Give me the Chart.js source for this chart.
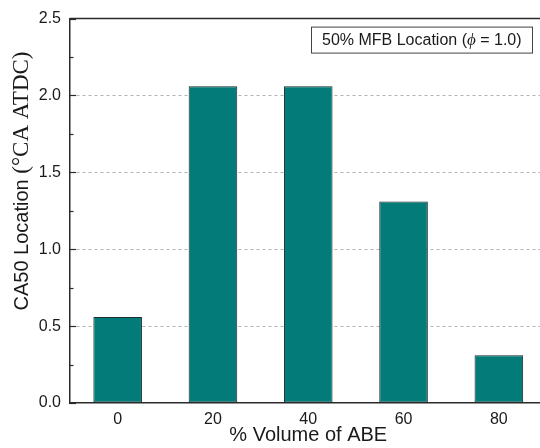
<!DOCTYPE html>
<html>
<head>
<meta charset="utf-8">
<script src="https://cdn.jsdelivr.net/npm/chart.js@4"></script>
<style>
  html, body { margin: 0; padding: 0; background: #fff; overflow: hidden; }
  #wrap { width: 560px; height: 448px; }
</style>
</head>
<body>
<div id="wrap"><canvas id="c" width="560" height="448"></canvas></div>
<script>
// ABE blend level (% by volume) and the crank angle of 50% mass fraction burned
const abeVolumes = ['0', '20', '40', '60', '80'];
const ca50Values = [0.56, 2.06, 2.06, 1.31, 0.31];
const yMin = 0;
const yMax = 2.5;
const yStep = 0.5;
const annotationParts = [
  { text: '50% MFB Location (', font: '16px "Liberation Sans", Arial, sans-serif' },
  { text: 'ϕ', font: 'italic 17px "Liberation Serif", "Times New Roman", serif' },
  { text: ' = 1.0)', font: '16px "Liberation Sans", Arial, sans-serif' }
];
const yTitleParts = [
  { text: 'CA50 Location ', font: '20px "Liberation Sans", Arial, sans-serif' },
  { text: '(°CA ATDC)', font: '23px "Liberation Serif", "Times New Roman", serif' }
];
const xTitle = '% Volume of ABE';

const axisColor = '#2b2b2b';
const textColor = '#1a1a1a';

// Frame line on top, inward major/minor ticks on the value axis,
// the rotated axis title and the boxed note in the upper right.
const decorations = {
  id: 'decorations',
  afterDatasetsDraw(chart) {
    const { ctx, chartArea, scales } = chart;
    const y = scales.y;
    ctx.save();
    ctx.strokeStyle = axisColor;
    ctx.lineWidth = 1.5;
    ctx.beginPath();
    ctx.moveTo(chartArea.left, chartArea.top);
    ctx.lineTo(chartArea.right, chartArea.top);
    ctx.stroke();

    ctx.lineWidth = 1.2;
    for (let v = yMin; v <= yMax + 1e-9; v += yStep / 2) {
      const py = Math.round(y.getPixelForValue(v)) + 0.5;
      const major = Math.abs(v / yStep - Math.round(v / yStep)) < 1e-6;
      const len = major ? 6 : 3.5;
      ctx.beginPath();
      ctx.moveTo(chartArea.left, py);
      ctx.lineTo(chartArea.left + len, py);
      ctx.stroke();
    }

    // rotated y title with mixed fonts
    ctx.fillStyle = textColor;
    let total = 0;
    yTitleParts.forEach(p => { ctx.font = p.font; total += ctx.measureText(p.text).width; });
    ctx.translate(22, 181);
    ctx.rotate(-Math.PI / 2);
    ctx.textBaseline = 'middle';
    ctx.textAlign = 'left';
    let x = -total / 2;
    yTitleParts.forEach(p => { ctx.font = p.font; ctx.fillText(p.text, x, 0); x += ctx.measureText(p.text).width; });
    ctx.restore();

    // boxed note
    ctx.save();
    const boxL = chartArea.left + 241, boxT = chartArea.top + 8, boxW = 221, boxH = 26;
    ctx.fillStyle = '#fff';
    ctx.fillRect(boxL, boxT, boxW, boxH);
    ctx.strokeStyle = '#444';
    ctx.lineWidth = 1;
    ctx.strokeRect(boxL + 0.5, boxT + 0.5, boxW, boxH);
    ctx.fillStyle = textColor;
    ctx.textBaseline = 'middle';
    let tx = boxL + 11;
    annotationParts.forEach(p => { ctx.font = p.font; ctx.fillText(p.text, tx, boxT + boxH / 2 + 1); tx += ctx.measureText(p.text).width; });
    ctx.restore();
  }
};

new Chart(document.getElementById('c'), {
  type: 'bar',
  data: {
    labels: abeVolumes,
    datasets: [{
      data: ca50Values,
      backgroundColor: '#037b78',
      borderColor: '#1c2b2b',
      borderWidth: 1,
      borderSkipped: false,
      categoryPercentage: 1,
      barPercentage: 0.51
    }]
  },
  options: {
    responsive: false,
    animation: false,
    devicePixelRatio: 1,
    layout: { padding: { left: 0, top: 15, right: 13.5, bottom: 0 } },
    plugins: { legend: { display: false }, tooltip: { enabled: false } },
    scales: {
      x: {
        afterFit(s) { s.height = 45; },
        grid: { display: false, drawTicks: false },
        border: { display: true, color: axisColor, width: 1.5 },
        ticks: {
          color: textColor,
          padding: 7,
          font: { family: '"Liberation Sans", Arial, sans-serif', size: 16 }
        },
        title: {
          display: true,
          text: xTitle,
          color: textColor,
          font: { family: '"Liberation Sans", Arial, sans-serif', size: 20 },
          padding: { top: 0, bottom: 1 }
        }
      },
      y: {
        min: yMin,
        max: yMax,
        afterFit(s) { s.width = 70; },
        grid: {
          drawTicks: false,
          lineWidth: 1,
          color(ctx) {
            const v = ctx.tick ? ctx.tick.value : null;
            return (v === yMin || v === yMax) ? 'rgba(0,0,0,0)' : '#b4b4b4';
          }
        },
        border: { display: true, color: axisColor, width: 1.5, dash: [3, 3] },
        ticks: {
          stepSize: yStep,
          color: textColor,
          padding: 9,
          font: { family: '"Liberation Sans", Arial, sans-serif', size: 16 },
          callback: v => Number(v).toFixed(1)
        }
      }
    }
  },
  plugins: [decorations]
});
</script>
</body>
</html>
